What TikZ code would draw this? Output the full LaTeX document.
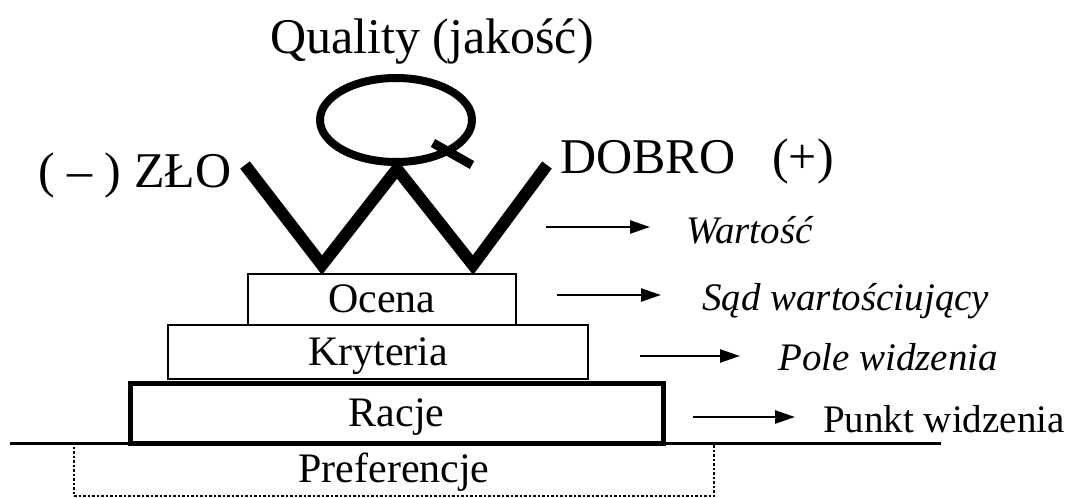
\documentclass[tikz,border=0pt]{standalone}
\usepackage{fontspec}
\setmainfont{Liberation Serif}
\usetikzlibrary{arrows.meta}

\tikzset{
  big/.style={font=\fontsize{50}{60}\selectfont, inner sep=0pt},
  side/.style={font=\fontsize{39}{46}\selectfont\itshape, inner sep=0pt, anchor=base west},
  level/.style={draw, inner sep=0pt, font=\fontsize{42}{50}\selectfont,
                text height=32pt, text depth=6pt, line width=2.5pt},
  pointer/.style={line width=2.5pt, -{Triangle[length=20pt,width=13pt]}},
  stroke/.style={line width=12pt, line join=miter, line cap=butt},
}

\begin{document}
\begin{tikzpicture}[x=1pt, y=-1pt]
  \useasboundingbox (0,0) rectangle (1069,498);

  % title above the Q
  \node[big, anchor=base west] (title) at (270,53) {Quality (jakość)};

  % the letter Q: ring and tail
  \draw[line width=8pt] (396,120) ellipse [x radius=76pt, y radius=42pt];
  \coordinate (tailA) at (433,143);
  \coordinate (tailB) at (472,165);
  \draw[line width=9pt] (tailA) -- (tailB);

  % the W standing on the top level
  \coordinate (w1) at (245,165);
  \coordinate (w2) at (322,265);
  \coordinate (w3) at (397,169);
  \coordinate (w4) at (473,265);
  \coordinate (w5) at (547,165);
  \draw[stroke] (w1) -- (w2) -- (w3) -- (w4) -- (w5);

  % poles
  \node[big, anchor=base west] (zlo) at (38,187) {( – ) ZŁO};
  \node[big, anchor=base west] (dobro) at (560,173) {DOBRO};
  \node[big, anchor=base west] (plus) at (772,173) {(+)};

  % pyramid of levels
  \node[level, dotted, line width=2pt, minimum width=640pt, minimum height=53pt]
       (pref) at (394,469.5) {Preferencje};
  \node[level, line width=5pt, minimum width=533pt, minimum height=60pt]
       (racje) at (396.5,413) {Racje};
  \node[level, minimum width=420pt, minimum height=54pt]
       (kryt) at (378,352) {Kryteria};
  \node[level, minimum width=268pt, minimum height=51pt]
       (ocena) at (382,299.5) {Ocena};

  % ground line
  \coordinate (g1) at (10,443);
  \coordinate (g2) at (941,443);
  \draw[line width=3pt] (g1) -- (g2);

  % results on the right
  \node[side] (wart) at (686,243) {Wartość};
  \node[side] (sad) at (702,310) {Sąd wartościujący};
  \node[side] (pole) at (778,370) {Pole widzenia};
  \node[side, font=\fontsize{39}{46}\selectfont\upshape] (punkt) at (823,432) {Punkt widzenia};

  \coordinate (a1) at (546,227);  \coordinate (b1) at (650,227);
  \coordinate (a2) at (557,295);  \coordinate (b2) at (661,295);
  \coordinate (a3) at (640,356);  \coordinate (b3) at (740,356);
  \coordinate (a4) at (693,417);  \coordinate (b4) at (795,417);
  \draw[pointer] (a1) -- (b1);
  \draw[pointer] (a2) -- (b2);
  \draw[pointer] (a3) -- (b3);
  \draw[pointer] (a4) -- (b4);
\end{tikzpicture}
\end{document}
